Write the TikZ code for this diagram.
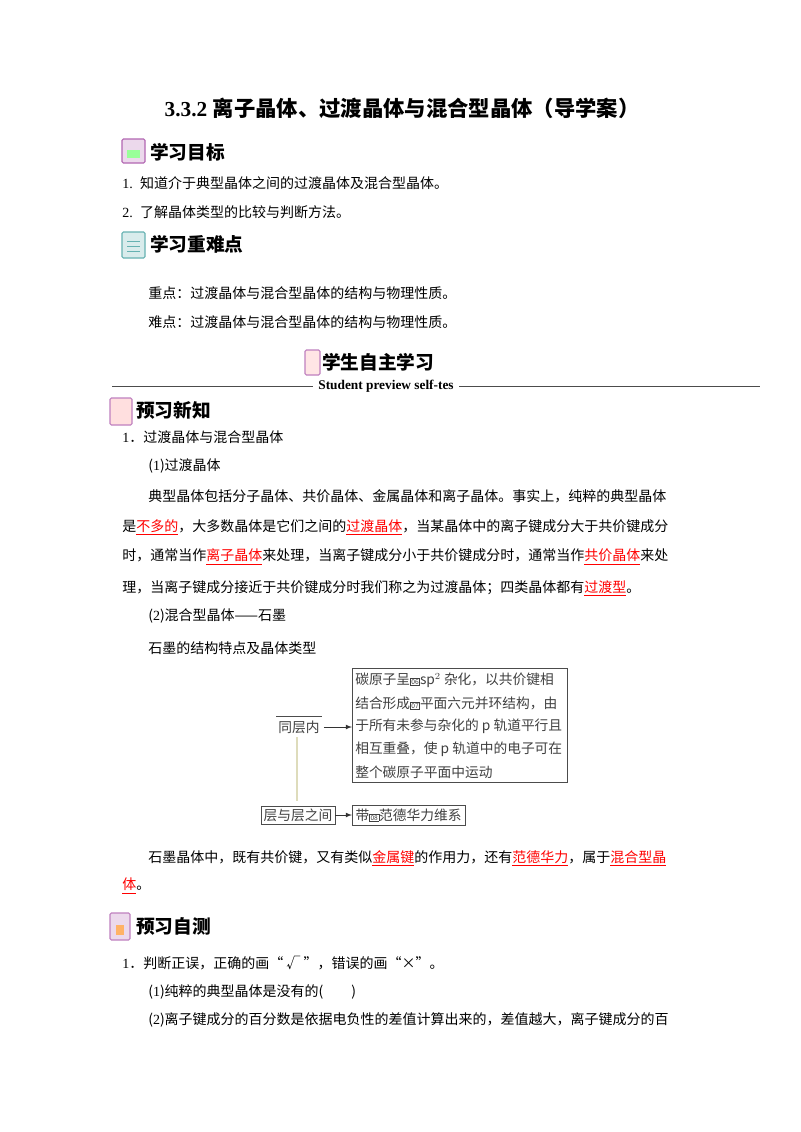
\documentclass[tikz,border=0pt]{standalone}
\usepackage{fontspec}
\setmainfont{Noto Sans CJK SC}
\newfontfamily\lat{Liberation Serif}
\newcommand{\rul}[1]{\textcolor{red}{\underline{#1}}}
\newcommand{\bn}[1]{{\tiny\setlength{\fboxsep}{0.5pt}\fbox{#1}}}
\tikzset{x=0.75pt,y=-0.75pt,
 txt/.style={anchor=west,inner sep=0pt,font=\fontsize{10.5}{12}\selectfont},
 head/.style={anchor=west,inner sep=0pt,font=\fontsize{14}{16}\selectfont\bfseries},
 dtxt/.style={anchor=west,inner sep=0pt,font=\fontsize{10.3}{12}\selectfont,text=black!75},
 ico/.style={draw=violet!60,fill=violet!15,line width=0.8pt,rounded corners=1pt},
 ln/.style={draw=black!70,line width=0.7pt},
 arr/.style={draw=black!80,line width=0.6pt,-latex}}
\begin{document}
\begin{tikzpicture}
\useasboundingbox[fill=white] (0,0) rectangle (800,1132);
\node[inner sep=0pt,font=\fontsize{16}{18}\selectfont\bfseries] (title) at (402,108) {{\lat 3.3.2 }离子晶体、过渡晶体与混合型晶体（导学案）};
% section 1
\draw[ico] (122,139) rectangle (145,163);
\draw[fill=green!40,draw=none] (127,150) rectangle (140,158);
\node[head] (h1) at (150,152) {学习目标};
\node[txt] (o1) at (122,183) {{\lat 1.} \ 知道介于典型晶体之间的过渡晶体及混合型晶体。};
\node[txt] (o2) at (122,212) {{\lat 2.} \ 了解晶体类型的比较与判断方法。};
\draw[ico,draw=teal!60,fill=teal!15] (122,232) rectangle (145,258);
\draw[draw=teal!60] (127,241) -- (140,241) (127,246) -- (140,246) (127,251) -- (140,251);
\node[head] (h2) at (150,244) {学习重难点};
\node[txt] (k1) at (148,293) {重点：过渡晶体与混合型晶体的结构与物理性质。};
\node[txt] (k2) at (148,322) {难点：过渡晶体与混合型晶体的结构与物理性质。};
% student header
\draw[ico,draw=violet!50,fill=pink!40] (305,350) rectangle (320,375);
\node[head] (h3) at (322,362) {学生自主学习};
\node[inner sep=4pt,font=\lat\fontsize{10}{12}\selectfont\bfseries] (sp) at (386,386) {Student preview self-tes};
\draw[ln] (112,386) -- (sp.west);
\draw[ln] (sp.east) -- (760,386);
\draw[ico,draw=violet!50,fill=pink!50] (110,398) rectangle (132,425);
\node[head] (h4) at (136,410) {预习新知};
\node[txt] (p0) at (122,437) {{\lat 1}．过渡晶体与混合型晶体};
\node[txt] (p1) at (148,466) {({\lat 1})过渡晶体};
\node[txt] (l1) at (148,496) {典型晶体包括分子晶体、共价晶体、金属晶体和离子晶体。事实上，纯粹的典型晶体};
\node[txt] (l2) at (122,527) {是\rul{不多的}，大多数晶体是它们之间的\rul{过渡晶体}，当某晶体中的离子键成分大于共价键成分};
\node[txt] (l3) at (122,557) {时，通常当作\rul{离子晶体}来处理，当离子键成分小于共价键成分时，通常当作\rul{共价晶体}来处};
\node[txt] (l4) at (122,588) {理，当离子键成分接近于共价键成分时我们称之为过渡晶体；四类晶体都有\rul{过渡型}。};
\node[txt] (p2) at (148,616) {({\lat 2})混合型晶体——石墨};
\node[txt] (p3) at (148,648) {石墨的结构特点及晶体类型};
% diagram
\draw[ln] (352,668) rectangle (567,782);
\node[dtxt] at (355,680) {碳原子呈\bn{06}sp$^2$ 杂化，以共价键相};
\node[dtxt] at (355,703) {结合形成\bn{07}平面六元并环结构，由};
\node[dtxt] at (355,726) {于所有未参与杂化的 p 轨道平行且};
\node[dtxt] at (355,749) {相互重叠，使 p 轨道中的电子可在};
\node[dtxt] at (355,772) {整个碳原子平面中运动};
\coordinate (bx1) at (352,727);
\node[dtxt,anchor=center] (tc) at (299,727) {同层内};
\draw[ln,line width=0.5pt] (276,716) -- (322,716);
\draw[arr] (tc.east) ++(3pt,0) -- (bx1);
\draw[draw=yellow!50!black!30,line width=0.8pt] (297,737) -- (297,801);
\node[dtxt,anchor=center,draw=black!70,inner sep=2pt] (lc) at (298,815) {层与层之间};
\node[dtxt,anchor=west,draw=black!70,inner sep=2.5pt] (vd) at (352,815) {带\bn{08}范德华力维系};
\draw[arr] (lc) -- (vd);
\node[txt] (g1) at (148,858) {石墨晶体中，既有共价键，又有类似\rul{金属键}的作用力，还有\rul{范德华力}，属于\rul{混合型晶}};
\node[txt] (g2) at (122,886) {\rul{体}。};
\draw[ico,draw=violet!50,fill=violet!15] (110,913) rectangle (130,940);
\draw[fill=orange!60,draw=none] (116,925) rectangle (124,935);
\node[head] (h5) at (136,926) {预习自测};
\node[txt] (q0) at (122,963) {{\lat 1}．判断正误，正确的画“ √ ”，错误的画“×”。};
\node[txt] (q1) at (148,992) {({\lat 1})纯粹的典型晶体是没有的(\hspace{2em})};
\node[txt] (q2) at (148,1020) {({\lat 2})离子键成分的百分数是依据电负性的差值计算出来的，差值越大，离子键成分的百};
\end{tikzpicture}
\end{document}
